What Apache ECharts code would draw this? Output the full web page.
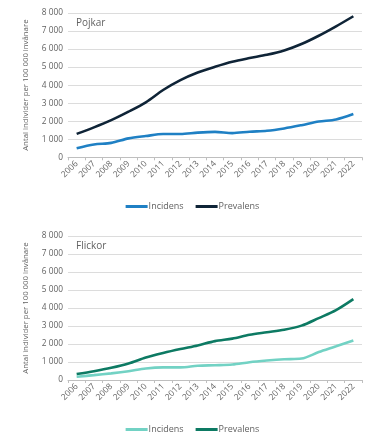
<!DOCTYPE html>
<html>
<head>
<meta charset="utf-8">
<script src="https://cdn.jsdelivr.net/npm/echarts@6/dist/echarts.min.js"></script>
<style>
html,body{margin:0;padding:0;background:#fff;}
#c1{position:absolute;left:0;top:0;width:385px;height:224px;}
#c2{position:absolute;left:0;top:224px;width:385px;height:224px;}
</style>
</head>
<body>
<div id="c1"></div>
<div id="c2"></div>
<script>
const years = ['2006','2007','2008','2009','2010','2011','2012','2013','2014','2015','2016','2017','2018','2019','2020','2021','2022'];
const pojkarIncidens = [500, 710, 800, 1050, 1180, 1290, 1290, 1370, 1410, 1340, 1420, 1470, 1600, 1780, 1980, 2100, 2400];
const pojkarPrevalens = [1300, 1660, 2060, 2530, 3050, 3730, 4280, 4700, 5020, 5300, 5500, 5680, 5920, 6280, 6740, 7260, 7820];
const flickorIncidens = [180, 270, 370, 490, 640, 700, 700, 790, 820, 860, 990, 1080, 1150, 1190, 1550, 1870, 2200];
const flickorPrevalens = [330, 490, 680, 920, 1250, 1500, 1720, 1920, 2160, 2300, 2510, 2650, 2790, 3020, 3440, 3880, 4490];
const yTicks = [0, 1000, 2000, 3000, 4000, 5000, 6000, 7000, 8000];

const fmt = v => String(v).replace(/\B(?=(\d{3})+(?!\d))/g, ' ');
const FONT = '"Open Sans", sans-serif';
const TXT = '#626262';

function makeOption(title, inc, prev, cInc, cPrev, gridTop, gridBottom, legendTop) {
  return {
    animation: false,
    textStyle: {fontFamily: FONT},
    grid: {left: 68, right: 23, top: gridTop, bottom: gridBottom, containLabel: false},
    graphic: [{type: 'text', left: 76, top: gridTop + 5, style: {text: title, fontFamily: FONT, fontSize: 10, fill: TXT}}],
    legend: {
      left: 'center', top: legendTop, itemWidth: 22, itemHeight: 3, itemGap: 12,
      icon: 'rect',
      textStyle: {fontFamily: FONT, fontSize: 9, color: TXT, padding: [0, 0, 0, -4]},
      data: ['Incidens', 'Prevalens']
    },
    xAxis: {
      type: 'category', data: years, boundaryGap: true,
      axisLine: {lineStyle: {color: '#bfbfbf', width: 1}},
      axisTick: {show: true, interval: 0, length: 3, lineStyle: {color: '#bfbfbf'}},
      axisLabel: {interval: 0, rotate: 45, fontSize: 8.5, color: TXT, fontFamily: FONT, margin: 5}
    },
    yAxis: {
      type: 'value', min: 0, max: 8000, interval: 1000,
      name: 'Antal individer per 100 000 invånare', nameLocation: 'middle', nameGap: 38,
      nameTextStyle: {fontSize: 7.8, color: TXT, fontFamily: FONT},
      axisLine: {show: false}, axisTick: {show: false},
      splitLine: {lineStyle: {color: '#dcdcdc', width: 1}},
      axisLabel: {fontSize: 8.3, color: TXT, fontFamily: FONT, margin: 5,
        formatter: v => yTicks.includes(v) ? fmt(v) : ''}
    },
    series: [
      {name: 'Incidens', type: 'line', data: inc, symbol: 'none', smooth: 0.3,
       lineStyle: {color: cInc, width: 2.6}, itemStyle: {color: cInc}},
      {name: 'Prevalens', type: 'line', data: prev, symbol: 'none', smooth: 0.3,
       lineStyle: {color: cPrev, width: 2.6}, itemStyle: {color: cPrev}}
    ]
  };
}

const ch1 = echarts.init(document.getElementById('c1'), null, {renderer: 'canvas'});
ch1.setOption(makeOption('Pojkar', pojkarIncidens, pojkarPrevalens, '#1f80c4', '#0f2437', 13, 66.7, 197));
const ch2 = echarts.init(document.getElementById('c2'), null, {renderer: 'canvas'});
ch2.setOption(makeOption('Flickor', flickorIncidens, flickorPrevalens, '#72d2c4', '#0d7a63', 12, 68, 196));
</script>
</body>
</html>
